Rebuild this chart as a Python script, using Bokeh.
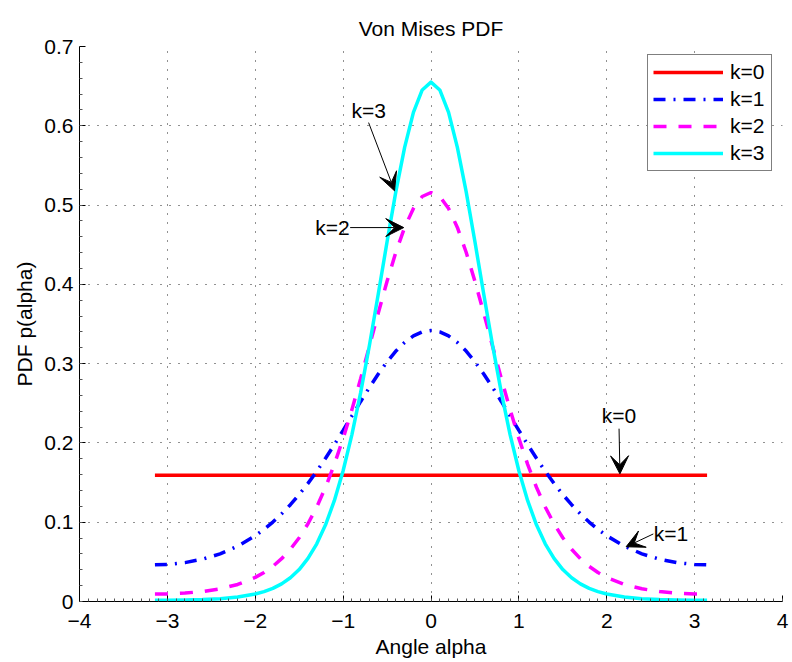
from bokeh.plotting import figure
from bokeh.models import (Range1d, FixedTicker, CustomJSTickFormatter, Legend, LegendItem,
                          Arrow, VeeHead, Label)
from bokeh.embed import file_html
from bokeh.resources import INLINE

FONT = "Liberation Sans"
FS = "21px"

# ---- data ----
angle = [-3.1416, -3.0, -2.8, -2.6, -2.4, -2.2,
         -2.0, -1.9, -1.8, -1.7, -1.6, -1.5, -1.4, -1.3, -1.2, -1.1, -1.0,
         -0.9, -0.8, -0.7, -0.6, -0.5, -0.4, -0.3, -0.2, -0.1,
         0.0,
         0.1, 0.2, 0.3, 0.4, 0.5, 0.6, 0.7, 0.8, 0.9,
         1.0, 1.1, 1.2, 1.3, 1.4, 1.5, 1.6, 1.7, 1.8, 1.9, 2.0,
         2.2, 2.4, 2.6, 2.8, 3.0, 3.1416]
angle_k0 = [-3.1416, 3.1416]
pdf_k0 = [0.1592, 0.1592]
pdf_k1 = [0.0462, 0.0467, 0.0490, 0.0534, 0.0601, 0.0698,
          0.0829, 0.0910, 0.1002, 0.1105, 0.1221, 0.1349, 0.1490, 0.1643, 0.1806, 0.1979, 0.2158,
          0.2341, 0.2523, 0.2701, 0.2870, 0.3023, 0.3158, 0.3268, 0.3350, 0.3400,
          0.3417,
          0.3400, 0.3350, 0.3268, 0.3158, 0.3023, 0.2870, 0.2701, 0.2523, 0.2341,
          0.2158, 0.1979, 0.1806, 0.1643, 0.1490, 0.1349, 0.1221, 0.1105, 0.1002, 0.0910, 0.0829,
          0.0698, 0.0601, 0.0534, 0.0490, 0.0467, 0.0462]
pdf_k2 = [0.0095, 0.0096, 0.0106, 0.0126, 0.0160, 0.0215,
          0.0304, 0.0366, 0.0443, 0.0540, 0.0659, 0.0804, 0.0981, 0.1192, 0.1441, 0.1730, 0.2057,
          0.2420, 0.2813, 0.3223, 0.3638, 0.4039, 0.4405, 0.4718, 0.4957, 0.5108,
          0.5159,
          0.5108, 0.4957, 0.4718, 0.4405, 0.4039, 0.3638, 0.3223, 0.2813, 0.2420,
          0.2057, 0.1730, 0.1441, 0.1192, 0.0981, 0.0804, 0.0659, 0.0540, 0.0443, 0.0366, 0.0304,
          0.0215, 0.0160, 0.0126, 0.0106, 0.0096, 0.0095]
pdf_k3 = [0.0016, 0.0017, 0.0019, 0.0025, 0.0036, 0.0056,
          0.0094, 0.0124, 0.0165, 0.0222, 0.0299, 0.0403, 0.0543, 0.0728, 0.0967, 0.1272, 0.1649,
          0.2105, 0.2637, 0.3235, 0.3878, 0.4537, 0.5169, 0.5728, 0.6169, 0.6452,
          0.6550,
          0.6452, 0.6169, 0.5728, 0.5169, 0.4537, 0.3878, 0.3235, 0.2637, 0.2105,
          0.1649, 0.1272, 0.0967, 0.0728, 0.0543, 0.0403, 0.0299, 0.0222, 0.0165, 0.0124, 0.0094,
          0.0056, 0.0036, 0.0025, 0.0019, 0.0017, 0.0016]
labels = ["k=0", "k=1", "k=2", "k=3"]
x_ticks = [-4, -3, -2, -1, 0, 1, 2, 3, 4]
y_ticks = [0.0, 0.1, 0.2, 0.3, 0.4, 0.5, 0.6, 0.7]

p = figure(width=792, height=662, output_backend="svg", toolbar_location=None,
           x_range=Range1d(-4, 4), y_range=Range1d(0, 0.7),
           min_border_left=79, min_border_right=10, min_border_top=46, min_border_bottom=61,
           title="Von Mises PDF")
p.outline_line_color = None
p.background_fill_color = "white"
p.border_fill_color = "white"

p.title.align = "center"
p.title.vertical_align = "top"
p.title.text_font = FONT
p.title.text_font_size = FS
p.title.text_font_style = "normal"
p.title.text_color = "black"
p.title.standoff = 10

p.xaxis.ticker = FixedTicker(ticks=x_ticks, minor_ticks=[-4 + 0.1 * i for i in range(81)])
p.yaxis.ticker = FixedTicker(ticks=y_ticks, minor_ticks=[0.02 * i for i in range(36)])
p.xaxis.formatter = CustomJSTickFormatter(code="""
  const s = Math.abs(tick).toFixed(0);
  return tick < -1e-9 ? "\u2212" + s : s;""")
p.yaxis.formatter = CustomJSTickFormatter(code="""
  if (Math.abs(tick) < 1e-9) return "0";
  return tick.toFixed(1);""")

for ax in (p.xaxis[0], p.yaxis[0]):
    ax.axis_line_color = "black"
    ax.axis_line_width = 1
    ax.major_tick_line_color = "black"
    ax.major_tick_in = 6
    ax.major_tick_out = 0
    ax.minor_tick_line_color = "#555555"
    ax.minor_tick_in = 3
    ax.minor_tick_out = 0
    ax.major_label_text_font = FONT
    ax.major_label_text_font_size = FS
    ax.major_label_text_color = "black"
    ax.axis_label_text_font = FONT
    ax.axis_label_text_font_size = FS
    ax.axis_label_text_font_style = "normal"
    ax.axis_label_text_color = "black"

p.xaxis.axis_label = "Angle alpha"
p.yaxis.axis_label = "PDF p(alpha)"
p.xaxis.major_label_standoff = 12
p.yaxis.major_label_standoff = 6
p.xaxis.axis_label_standoff = 4
p.yaxis.axis_label_standoff = 5

for g in (p.xgrid[0], p.ygrid[0]):
    g.grid_line_color = "#222222"
    g.grid_line_width = 1
    g.grid_line_dash = "1 8"
p.xgrid.ticker = p.xaxis.ticker
p.ygrid.ticker = p.yaxis.ticker

r0 = p.line(angle_k0, pdf_k0, line_color="#FF0000", line_width=3.5)
r1 = p.line(angle, pdf_k1, line_color="#0000FF", line_width=3.5, line_dash="12 8 2 8")
r2 = p.line(angle, pdf_k2, line_color="#FF00FF", line_width=3.5, line_dash="13 12")
r3 = p.line(angle, pdf_k3, line_color="#00FFFF", line_width=3.5, line_join="round")

legend = Legend(items=[LegendItem(label=labels[0], renderers=[r0]),
                       LegendItem(label=labels[1], renderers=[r1]),
                       LegendItem(label=labels[2], renderers=[r2]),
                       LegendItem(label=labels[3], renderers=[r3])],
                location=(568, 430), margin=0, padding=5, spacing=3,
                glyph_width=70, glyph_height=24, label_height=24, label_width=36,
                label_standoff=7, label_text_font=FONT, label_text_font_size=FS,
                label_text_color="black", border_line_color="black", border_line_width=1,
                background_fill_color="white", background_fill_alpha=1.0)
p.add_layout(legend)

# annotations (text + arrows)
def annot(tx, ty, text, xs, ys, xe, ye):
    p.add_layout(Label(x=tx, y=ty, text=text, text_align="center", text_baseline="middle",
                       text_font=FONT, text_font_size=FS, text_color="black"))
    p.add_layout(Arrow(end=VeeHead(size=18, fill_color="black", line_color="black", line_width=1),
                       x_start=xs, y_start=ys, x_end=xe, y_end=ye,
                       line_color="black", line_width=1))

annot(-0.71, 0.619, "k=3", -0.71, 0.604, -0.415, 0.518)
annot(-1.12, 0.4716, "k=2", -0.92, 0.4716, -0.31, 0.4716)
annot(2.14, 0.234, "k=0", 2.14, 0.218, 2.15, 0.161)
annot(2.73, 0.0852, "k=1", 2.53, 0.0852, 2.22, 0.069)

open("out.html", "w").write(file_html(p, INLINE))
